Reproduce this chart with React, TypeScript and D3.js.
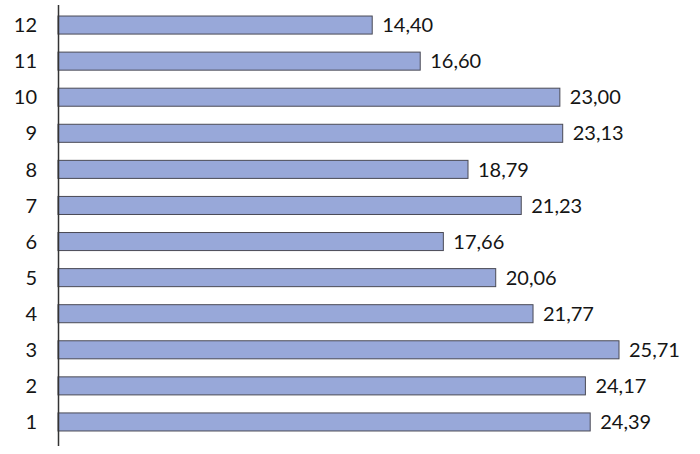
import React from "react";
import * as d3 from "d3";

const categories = ["1", "2", "3", "4", "5", "6", "7", "8", "9", "10", "11", "12"];
const values = [24.39, 24.17, 25.71, 21.77, 20.06, 17.66, 21.23, 18.79, 23.13, 23.0, 16.6, 14.4];

const W = 700;
const H = 454;

export default function App() {
  const x = d3.scaleLinear().domain([0, 25.71]).range([58, 619]);
  const y = d3
    .scaleBand<string>()
    .domain([...categories].reverse())
    .range([7, 440])
    .paddingInner(0.5)
    .paddingOuter(0.25);
  const fmt = (v: number) => v.toFixed(2).replace(".", ",");
  const font = "'Lato', 'Open Sans', sans-serif";
  return (
    <svg
      width={W}
      height={H}
      style={{ position: "absolute", left: 0, top: 0, background: "#fff" }}
      fontFamily={font}
    >
      {categories.map((c, i) => {
        const yy = y(c)!;
        const bw = y.bandwidth();
        return (
          <g key={c}>
            <rect
              x={x(0)}
              y={yy}
              width={x(values[i]) - x(0)}
              height={bw}
              fill="#98A8D9"
              stroke="#4a4a55"
              strokeWidth={1}
            />
            <text
              x={x(values[i]) + 10}
              y={yy + bw / 2}
              dy="0.36em"
              fontSize={20}
              fill="#151515"
            >
              {fmt(values[i])}
            </text>
            <text x={37} y={yy + bw / 2} dy="0.36em" fontSize={20} fill="#151515" textAnchor="end">
              {c}
            </text>
          </g>
        );
      })}
      <line x1={58.5} x2={58.5} y1={5} y2={446} stroke="#333" strokeWidth={1.5} />
    </svg>
  );
}
